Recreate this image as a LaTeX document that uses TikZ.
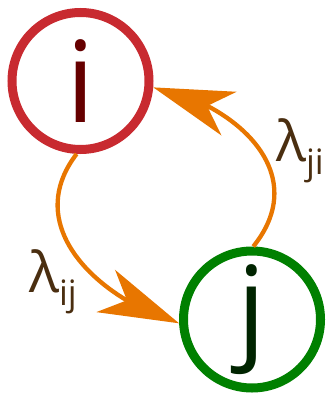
\documentclass[tikz,border=0pt]{standalone}
\usepackage{fontspec}
\setmainfont{Open Sans}
\usetikzlibrary{arrows.meta,bending}
\definecolor{crimson}{RGB}{200,42,48}
\definecolor{maroon}{RGB}{102,0,0}
\definecolor{leaf}{RGB}{0,128,0}
\definecolor{pine}{RGB}{0,36,0}
\definecolor{tangerine}{RGB}{232,118,0}
\definecolor{bark}{RGB}{74,46,16}
\newcommand{\lowsub}[1]{\raisebox{-13pt}{\fontsize{35}{40}\selectfont #1}}
\tikzset{
  state/.style={circle,draw=#1,line width=9pt,minimum size=137pt,inner sep=0pt,
    font=\fontsize{113}{113}\selectfont},
  flow/.style={draw=tangerine,line width=4.3pt,
    -{Stealth[length=80pt,width=46pt,inset=23pt]}},
  rate/.style={text=bark,anchor=base west,inner sep=0pt,font=\fontsize{56}{60}\selectfont},
}
\begin{document}
\begin{tikzpicture}
  \useasboundingbox (0,0) rectangle (327pt,-395pt);
  % the two states
  \node[state=crimson,text=maroon] (i) at (80.5pt,-81pt) {i};
  \node[state=leaf,text=pine] (j) at (252pt,-319.5pt) {j};
  % transitions
  \draw[flow] (i.-93) .. controls +(-57pt,-74pt) and +(-78pt,23pt) .. (j.183);
  \draw[flow] (j.89) .. controls +(62pt,77pt) and +(75pt,-13pt) .. (i.-5);
  \node[rate] (rij) at (29pt,-292pt) {λ\lowsub{ij}};
  \node[rate] (rji) at (276pt,-162pt) {λ\lowsub{ji}};
\end{tikzpicture}
\end{document}
